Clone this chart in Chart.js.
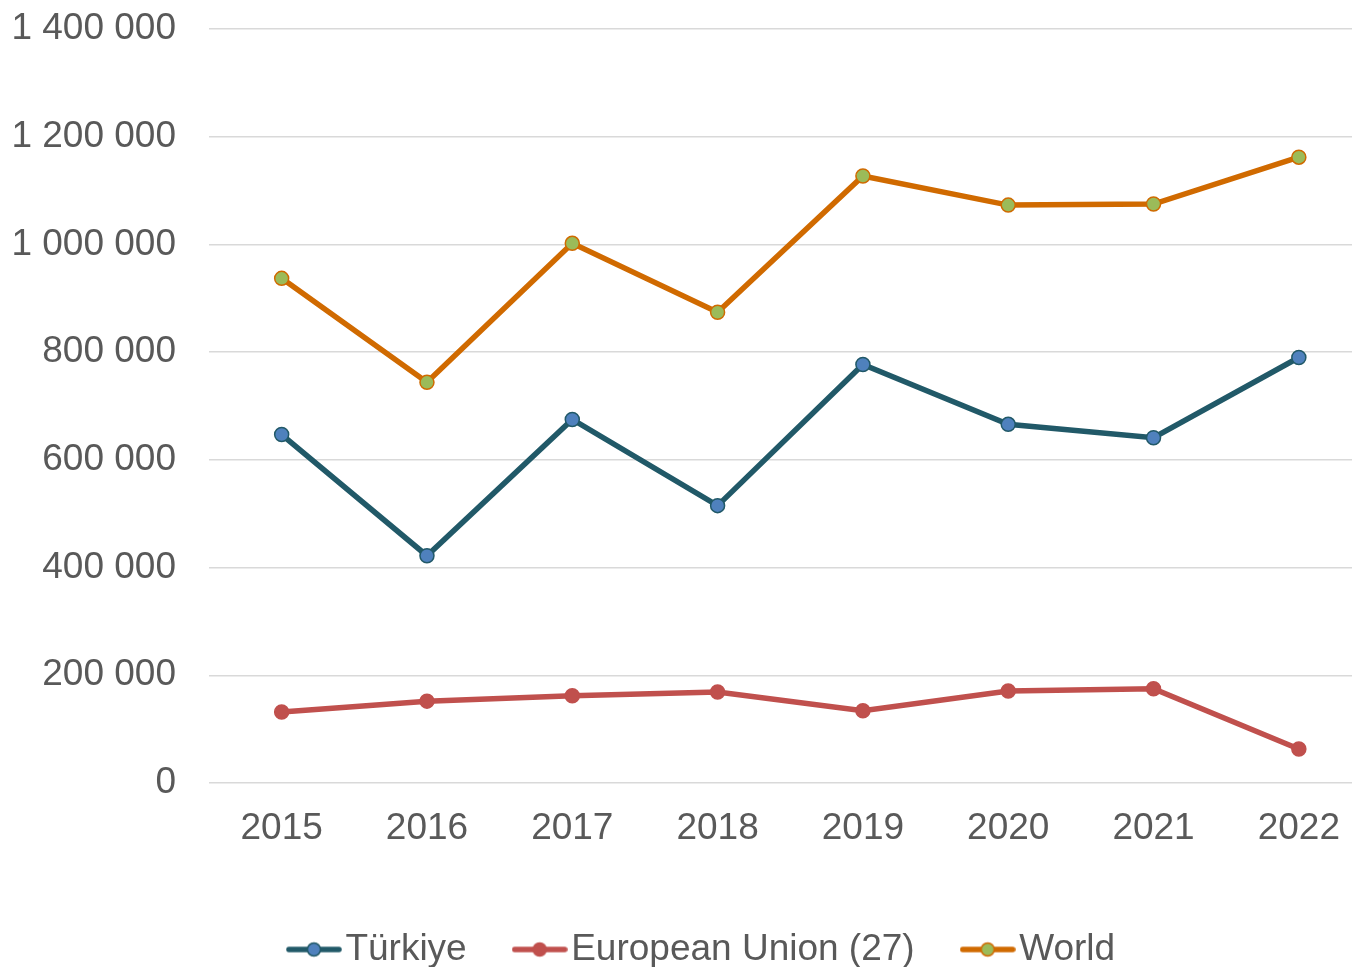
<!DOCTYPE html>
<html>
<head>
<meta charset="utf-8">
<script src="https://cdn.jsdelivr.net/npm/chart.js@4.4.1/dist/chart.umd.min.js"></script>
<style>
  html, body { margin: 0; padding: 0; background: #fff; overflow: hidden; }
  canvas { display: block; }
</style>
</head>
<body>
<canvas id="chart" width="1380" height="967"></canvas>
<script>
// data
const years = ['2015', '2016', '2017', '2018', '2019', '2020', '2021', '2022'];
const turkiye = [647000, 422000, 675000, 515000, 777000, 666000, 641000, 790000];
const eu27 = [132000, 152000, 162000, 169000, 134000, 171000, 175000, 63000];
const world = [937000, 744000, 1002000, 874000, 1127000, 1073000, 1075000, 1162000];
const yTicks = [0, 200000, 400000, 600000, 800000, 1000000, 1200000, 1400000];

const FONT = "'Liberation Sans', Arial, sans-serif";
const TXT = '#595959';

// legend marker: line with a dot on it
function legendIcon(lineColor, dotFill, dotBorder) {
  const c = document.createElement('canvas');
  c.width = 56; c.height = 18;
  const g = c.getContext('2d');
  g.strokeStyle = lineColor;
  g.lineWidth = 5.5;
  g.lineCap = 'round';
  g.beginPath(); g.moveTo(3, 9); g.lineTo(53, 9); g.stroke();
  g.fillStyle = dotFill;
  g.strokeStyle = dotBorder;
  g.lineWidth = 1.5;
  g.beginPath(); g.arc(28, 9, 6.5, 0, Math.PI * 2); g.fill(); g.stroke();
  return c;
}

function fmt(v) {
  return String(v).replace(/\B(?=(\d{3})+(?!\d))/g, ' ');
}

// nudge the legend to where it sits in the original
const shiftLegend = {
  id: 'shiftLegend',
  afterLayout(chart) {
    chart.legend.left += 18;
    chart.legend.right += 18;
    chart.legend.top += 11;
    chart.legend.bottom += 11;
  }
};

const ctx = document.getElementById('chart');
const chart = new Chart(ctx, {
  type: 'line',
  data: {
    labels: years,
    datasets: [
      {
        label: 'Türkiye',
        data: turkiye,
        borderColor: '#215968',
        backgroundColor: '#4F81BD',
        pointBackgroundColor: '#4F81BD',
        pointBorderColor: '#215968',
        borderWidth: 5.5,
        pointRadius: 7,
        pointBorderWidth: 1.5,
        legendIcon: legendIcon('#215968', '#4F81BD', '#215968')
      },
      {
        label: 'European Union (27)',
        data: eu27,
        borderColor: '#C0504D',
        backgroundColor: '#C0504D',
        pointBackgroundColor: '#C0504D',
        pointBorderColor: '#C0504D',
        borderWidth: 5.5,
        pointRadius: 7,
        pointBorderWidth: 1.5,
        legendIcon: legendIcon('#C0504D', '#C0504D', '#C0504D')
      },
      {
        label: 'World',
        data: world,
        borderColor: '#D06A00',
        backgroundColor: '#9BBB59',
        pointBackgroundColor: '#9BBB59',
        pointBorderColor: '#D06A00',
        borderWidth: 5.5,
        pointRadius: 7,
        pointBorderWidth: 1.5,
        legendIcon: legendIcon('#D06A00', '#9BBB59', '#D06A00')
      }
    ]
  },
  options: {
    responsive: false,
    animation: false,
    layout: { padding: { top: 29, left: 0, right: 0, bottom: 0 } },
    plugins: {
      tooltip: { enabled: false },
      legend: {
        position: 'bottom',
        labels: {
          font: { family: FONT, size: 37 },
          color: TXT,
          usePointStyle: true,
          pointStyleWidth: 26,
          padding: 60,
          generateLabels(chart) {
            return chart.data.datasets.map((ds, i) => ({
              text: ds.label,
              fontColor: TXT,
              pointStyle: ds.legendIcon,
              lineWidth: 0,
              strokeStyle: 'transparent',
              fillStyle: 'transparent',
              datasetIndex: i,
              hidden: false
            }));
          }
        }
      }
    },
    scales: {
      x: {
        offset: true,
        grid: { display: false, drawTicks: false },
        border: { display: false },
        ticks: {
          font: { family: FONT, size: 37 },
          color: TXT,
          padding: 24,
          maxRotation: 0
        },
        afterFit(s) { s.height = 77; }
      },
      y: {
        min: 0,
        max: 1400000,
        afterBuildTicks(s) { s.ticks = yTicks.map(v => ({ value: v })); },
        grid: { color: '#D9D9D9', lineWidth: 1.5, drawTicks: true, tickLength: 33, tickColor: 'rgba(0,0,0,0)' },
        border: { display: false },
        ticks: {
          font: { family: FONT, size: 37 },
          color: TXT,
          padding: 0,
          callback: v => fmt(v)
        },
        afterFit(s) { s.width = 209; }
      }
    }
  },
  plugins: [shiftLegend]
});
</script>
</body>
</html>
